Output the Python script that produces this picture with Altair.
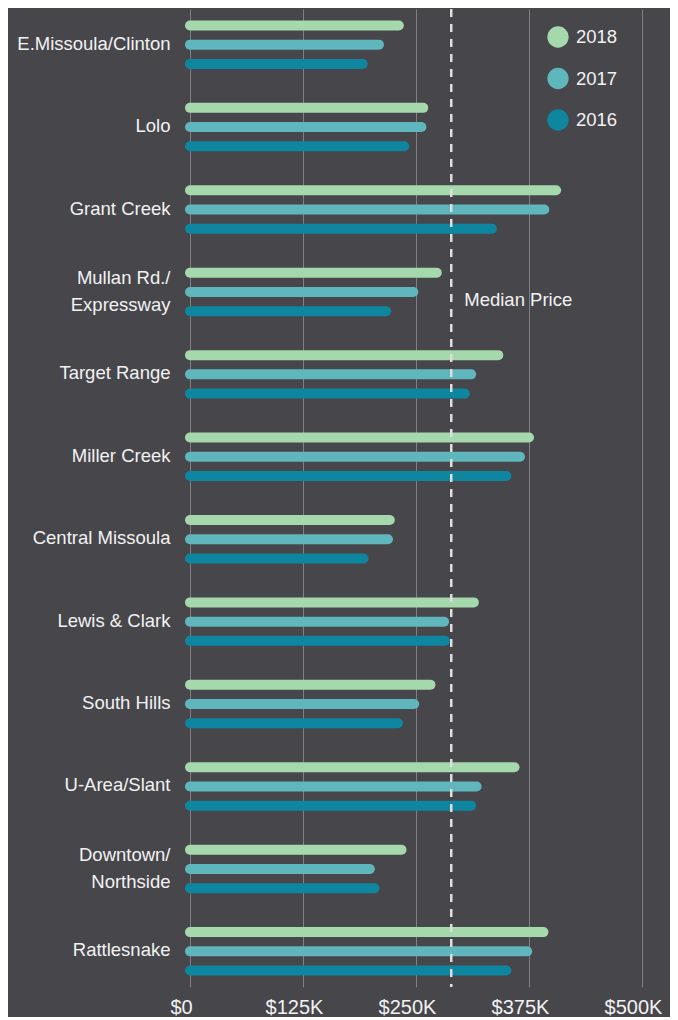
import altair as alt
import pandas as pd

regions = ["E.Missoula/Clinton", "Lolo", "Grant Creek", "Mullan Rd./|Expressway",
           "Target Range", "Miller Creek", "Central Missoula", "Lewis & Clark",
           "South Hills", "U-Area/Slant", "Downtown/|Northside", "Rattlesnake"]
years = ["2018", "2017", "2016"]
v2018 = [231, 258, 405, 273, 341, 375, 221, 314, 266, 359, 234, 391]
v2017 = [209, 256, 392, 247, 311, 365, 219, 281, 248, 317, 199, 373]
v2016 = [191, 237, 334, 217, 304, 350, 192, 282, 230, 311, 204, 350]
median_price = [289]
tick_values = [0, 125, 250, 375, 500]
colors = ["#a6d8ad", "#5fb7bd", "#0e86a0"]

rows = []
for yr, vals in zip(years, [v2018, v2017, v2016]):
    for r, v in zip(regions, vals):
        rows.append({"region": r, "year": yr, "value": v})
df = pd.DataFrame(rows)
med = pd.DataFrame({"m": median_price})
leg = pd.DataFrame({"year": years})

FONT = "Liberation Sans"
TXT = "#f2f2f2"

xscale = alt.Scale(domain=[0, 500], nice=False, zero=True)
cscale = alt.Scale(domain=years, range=colors)

bars = alt.Chart(df).mark_rule(strokeWidth=10, strokeCap="round").encode(
    y=alt.Y("region:N", sort=regions,
            scale=alt.Scale(paddingInner=0.3, paddingOuter=0.0825),
            axis=alt.Axis(title=None, labelExpr="split(datum.label, '|')",
                          labelFont=FONT, labelFontSize=18.5, labelColor=TXT,
                          labelPadding=20, labelLimit=300, labelLineHeight=27,
                          labelOffset={"condition": {"test": "indexof(datum.value, '|') >= 0",
                                                     "value": -14},
                                       "value": -1},
                          domain=False, ticks=False, grid=False)),
    yOffset=alt.YOffset("year:N", sort=years,
                        scale=alt.Scale(paddingInner=0, paddingOuter=0)),
    x=alt.X("value:Q", scale=xscale,
            axis=alt.Axis(title=None, values=tick_values,
                          labelExpr="datum.value == 0 ? '$0' : '$' + datum.value + 'K'",
                          labelFont=FONT, labelFontSize=20,
                          labelColor=TXT, labelPadding=10, labelOffset=-9,
                          labelFlush=False, domain=False, ticks=False,
                          grid=True, gridColor="#808084", gridWidth=1)),
    x2=alt.datum(0),
    color=alt.Color("year:N", sort=years, scale=cscale, legend=None),
)

legend_layer = alt.Chart(leg).mark_circle(opacity=0).encode(
    color=alt.Color("year:N", sort=years, scale=cscale,
                    legend=alt.Legend(title=None, orient="none", legendX=357,
                                      legendY=17, symbolType="circle",
                                      symbolSize=452, symbolOpacity=1,
                                      symbolStrokeWidth=0,
                                      labelFont=FONT, labelFontSize=18.5,
                                      labelColor=TXT, labelOffset=7,
                                      rowPadding=19.5)),
)

median_rule = alt.Chart(med).mark_rule(
    strokeDash=[8, 7], strokeWidth=2.5, color="#dedede"
).encode(x=alt.X("m:Q", scale=xscale))

median_text = alt.Chart(med).mark_text(
    text="Median Price", align="left", baseline="middle", dx=13,
    font=FONT, fontSize=18.5, color=TXT
).encode(x=alt.X("m:Q", scale=xscale), y=alt.value(291))

chart = alt.layer(legend_layer, bars, median_rule, median_text).resolve_scale(
    color="independent"
).properties(
    width=452, height=978,
    autosize=alt.AutoSizeParams(type="none"),
    padding={"left": 182, "top": 1, "right": 28, "bottom": 30},
    background="#47464b",
).configure_view(stroke=None)

chart.save("out.html", embed_options={"renderer": "svg", "actions": False})
